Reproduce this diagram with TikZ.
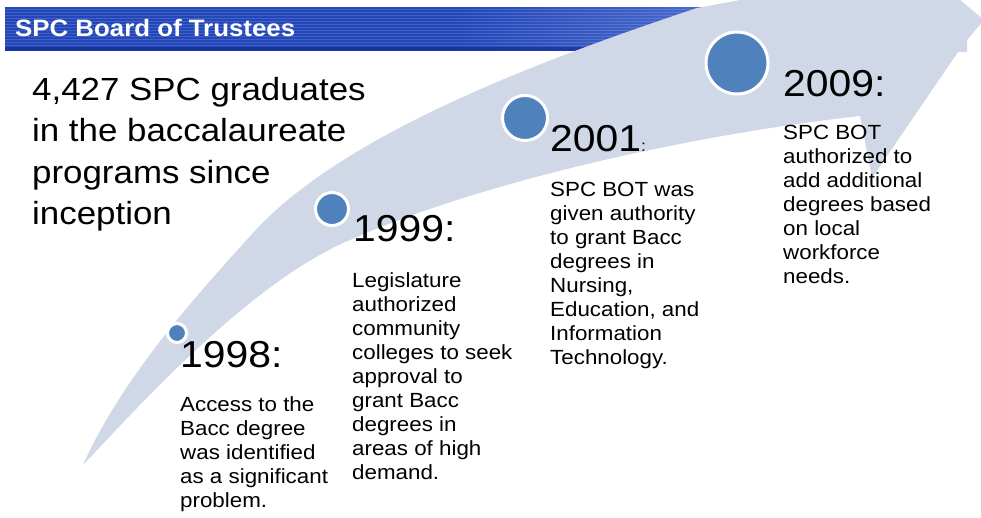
\documentclass[tikz,border=0pt]{standalone}
\usepackage{fontspec}
\setmainfont{Liberation Sans}[FakeStretch=1.09]
\usepackage{xcolor}

\definecolor{arrowfill}{HTML}{D0D8E8}
\definecolor{dotblue}{HTML}{4F81BD}
\definecolor{bardark}{HTML}{2347BA}
\definecolor{barmid}{HTML}{5877D2}
\definecolor{barlight}{HTML}{C2D0F2}
\definecolor{barline}{HTML}{0E2A94}
\pgfdeclarehorizontalshading{barshade}{100bp}{color(0bp)=(bardark); color(55bp)=(bardark); color(78bp)=(barmid); color(100bp)=(barlight)}

\begin{document}
\begin{tikzpicture}[x=1pt,y=-1pt,
  dot/.style={circle,fill=dotblue,draw=white,line width=3pt,inner sep=0pt},
  year/.style={anchor=base west,inner sep=0pt,font=\fontsize{37.5}{40}\selectfont},
  body/.style={anchor=north west,inner sep=0pt,align=left,font=\fontsize{20.5}{24}\selectfont}]
  \useasboundingbox (0,0) rectangle (981,518);

  % Header bar
  \shade[shading=barshade] (5,8) rectangle (760,51);
  \foreach \y in {10,13,...,46}
    \draw[white,opacity=0.15,line width=1pt] (5,\y) -- (760,\y);
  \fill[barline,opacity=0.6] (5,47) rectangle (760,51);
  \node[anchor=base west,inner sep=0pt,text=white,font=\bfseries\fontsize{23.7}{26}\selectfont] (H) at (15,37) {SPC Board of Trustees};

  % Curved arrow
  \begin{scope}
    \clip (0,0) rectangle (981,518);
    \fill[arrowfill] (83,465) .. controls (123,375) and (203,288) .. (253,233)
      .. controls (343,133) and (547,58) .. (697,8) -- (740,0)
      -- (960,0) -- (984,20) -- (967,40) -- (967,52) -- (958,52) -- (872,178) -- (860,116)
      .. controls (690,135) and (480,182) .. (350,240)
      .. controls (250,282) and (138,407) .. (83,465) -- cycle;
  \end{scope}

  % Graduates
  \node[anchor=north west,inner sep=0pt,align=left,font=\fontsize{32}{41.5}\selectfont] (G) at (32,77) {4,427 SPC graduates\\in the baccalaureate\\programs since\\inception};

  % Dots on the arrow
  \node[dot,minimum size=19pt] (D1) at (177,333) {};
  \node[dot,minimum size=33pt] (D2) at (332,209) {};
  \node[dot,minimum size=45pt] (D3) at (525,118) {};
  \node[dot,minimum size=62pt] (D4) at (737,63) {};

  % Years
  \node[year] (Y1) at (180,367) {1998:};
  \node[year] (Y2) at (353,242) {1999:};
  \node[year] (Y3) at (550,152) {2001{\fontsize{16}{16}\selectfont:}};
  \node[year] (Y4) at (783,97) {2009:};

  % Texts
  \node[body] (T1) at (180,396) {Access to the\\Bacc degree\\was identified\\as a significant\\problem.};
  \node[body] (T2) at (352,272) {Legislature\\authorized\\community\\colleges to seek\\approval to\\grant Bacc\\degrees in\\areas of high\\demand.};
  \node[body] (T3) at (550,182) {SPC BOT was\\given authority\\to grant Bacc\\degrees in\\Nursing,\\Education, and\\Information\\Technology.};
  \node[body] (T4) at (783,125) {SPC BOT\\authorized to\\add additional\\degrees based\\on local\\workforce\\needs.};
\end{tikzpicture}
\end{document}
